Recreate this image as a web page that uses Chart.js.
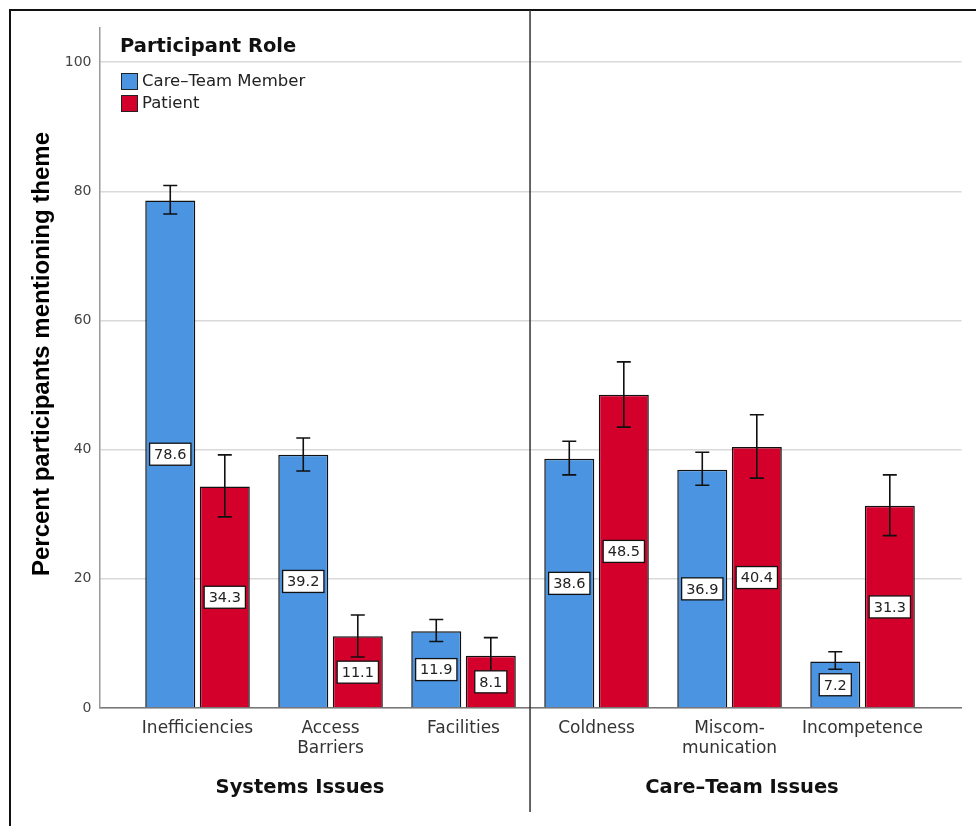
<!DOCTYPE html>
<html>
<head>
<meta charset="utf-8">
<script src="https://cdn.jsdelivr.net/npm/chart.js@4"></script>
<style>
  html, body { margin: 0; padding: 0; background: #fff; }
  #wrap { width: 976px; height: 826px; }
</style>
</head>
<body>
<div id="wrap"><canvas id="chart" width="976" height="826"></canvas></div>
<script>
// categories, in two panels of three
const CATEGORIES = [
  ["Inefficiencies"], ["Access", "Barriers"], ["Facilities"],
  ["Coldness"], ["Miscom-", "munication"], ["Incompetence"],
];
const PANELS = ["Systems Issues", "Care-Team Issues"];

const careTeam = [78.6, 39.2, 11.9, 38.6, 36.9, 7.2];
const patient = [34.3, 11.1, 8.1, 48.5, 40.4, 31.3];

// error bar bounds
const careLow = [76.5, 36.7, 10.3, 36.1, 34.5, 6.0];
const careHigh = [80.9, 41.8, 13.7, 41.3, 39.6, 8.7];
const patientLow = [29.6, 7.9, 5.6, 43.5, 35.6, 26.7];
const patientHigh = [39.2, 14.4, 10.9, 53.6, 45.4, 36.1];

const Y_TICKS = [0, 20, 40, 60, 80, 100];

const BLUE = "#4a94e2";
const RED = "#d4002c";

const toPoints = (vals) => vals.map((v, i) => ({ x: i, y: v }));

const errorBars = {
  id: "errorBars",
  afterDatasetsDraw(chart) {
    const { ctx } = chart;
    const y = chart.scales.y;
    const bounds = [[careLow, careHigh], [patientLow, patientHigh]];
    ctx.save();
    ctx.strokeStyle = "#111";
    ctx.lineWidth = 1.6;
    chart.data.datasets.forEach((ds, di) => {
      const meta = chart.getDatasetMeta(di);
      meta.data.forEach((bar, i) => {
        const x = bar.x;
        const top = y.getPixelForValue(bounds[di][1][i]);
        const bot = y.getPixelForValue(bounds[di][0][i]);
        ctx.beginPath();
        ctx.moveTo(x, top); ctx.lineTo(x, bot);
        ctx.moveTo(x - 7, top); ctx.lineTo(x + 7, top);
        ctx.moveTo(x - 7, bot); ctx.lineTo(x + 7, bot);
        ctx.stroke();
      });
    });
    // value boxes in the middle of each bar
    ctx.font = "14.5px 'DejaVu Sans'";
    ctx.textAlign = "center";
    ctx.textBaseline = "middle";
    chart.data.datasets.forEach((ds, di) => {
      const meta = chart.getDatasetMeta(di);
      meta.data.forEach((bar, i) => {
        const v = ds.data[i].y;
        const txt = v.toFixed(1);
        const cy = y.getPixelForValue(v / 2);
        const w = ctx.measureText(txt).width + 9;
        const h = 22;
        ctx.fillStyle = "#fff";
        ctx.fillRect(bar.x - w / 2, cy - h / 2, w, h);
        ctx.strokeStyle = "#111";
        ctx.lineWidth = 1.3;
        ctx.strokeRect(bar.x - w / 2, cy - h / 2, w, h);
        ctx.fillStyle = "#222";
        ctx.fillText(txt, bar.x, cy + 1);
      });
    });
    ctx.restore();
  },
  afterDraw(chart) {
    const { ctx } = chart;
    const x = chart.scales.x;
    ctx.save();
    // outer frame (top and left only, as cropped)
    ctx.strokeStyle = "#111";
    ctx.lineWidth = 2;
    ctx.beginPath();
    ctx.moveTo(10, 826); ctx.lineTo(10, 10); ctx.lineTo(976, 10);
    ctx.stroke();
    // panel divider
    const divX = x.getPixelForValue(2.5);
    ctx.strokeStyle = "#333";
    ctx.lineWidth = 1.5;
    ctx.beginPath();
    ctx.moveTo(divX, 10); ctx.lineTo(divX, 812);
    ctx.stroke();

    // legend
    ctx.fillStyle = "#111";
    ctx.textAlign = "left";
    ctx.textBaseline = "alphabetic";
    ctx.font = "bold 19.5px 'DejaVu Sans'";
    ctx.fillText("Participant Role", 120, 52);
    const items = [["Care\u2013Team Member", BLUE], ["Patient", RED]];
    ctx.font = "16.5px 'DejaVu Sans'";
    items.forEach(([label, col], k) => {
      const yy = 73 + k * 22;
      ctx.fillStyle = col;
      ctx.fillRect(121, yy, 17, 17);
      ctx.strokeStyle = "#222";
      ctx.lineWidth = 1;
      ctx.strokeRect(121.5, yy + 0.5, 16, 16);
      ctx.fillStyle = "#222";
      ctx.textBaseline = "middle";
      ctx.fillText(label, 142, yy + 9);
    });

    // panel titles
    ctx.fillStyle = "#111";
    ctx.textAlign = "center";
    ctx.textBaseline = "alphabetic";
    ctx.font = "bold 19.5px 'DejaVu Sans'";
    ctx.fillText(PANELS[0], 300, 793);
    ctx.fillText(PANELS[1].replace("-", "\u2013"), 742, 793);

    // y axis title
    ctx.translate(49, 354);
    ctx.rotate(-Math.PI / 2);
    ctx.font = "bold 24px 'Liberation Sans'";
    ctx.fillStyle = "#000";
    ctx.textBaseline = "alphabetic";
    ctx.fillText("Percent participants mentioning theme", 0, 0);
    ctx.restore();
  },
};

new Chart(document.getElementById("chart"), {
  type: "bar",
  data: {
    datasets: [
      {
        label: "Care\u2013Team Member",
        data: toPoints(careTeam),
        backgroundColor: BLUE,
        borderColor: "#111",
        borderWidth: 1.5,
      },
      {
        label: "Patient",
        data: toPoints(patient),
        backgroundColor: RED,
        borderColor: "#111",
        borderWidth: 1.5,
      },
    ],
  },
  options: {
    responsive: false,
    animation: false,
    categoryPercentage: 0.82,
    barPercentage: 0.917,
    layout: { padding: { top: 28, right: 14.5, left: 0, bottom: 0 } },
    plugins: {
      legend: { display: false },
      tooltip: { enabled: false },
    },
    scales: {
      x: {
        type: "linear",
        offset: false,
        min: -0.737,
        max: 5.744,
        grid: { display: false, drawTicks: false, offset: false },
        border: { color: "#777", width: 1.5 },
        ticks: {
          stepSize: 1,
          includeBounds: false,
          autoSkip: false,
          maxRotation: 0,
          padding: 10,
          color: "#333",
          font: { family: "DejaVu Sans", size: 17, lineHeight: 1.2 },
          callback: (v) => CATEGORIES[v] || "",
        },
        afterFit: (s) => { s.height = 118; },
      },
      y: {
        min: 0,
        max: 105.3,
        grid: { color: "#d9d9d9", lineWidth: 1.6, drawTicks: false },
        border: { color: "#999", width: 1.5 },
        ticks: {
          stepSize: 20,
          includeBounds: false,
          padding: 8,
          color: "#444",
          font: { family: "DejaVu Sans", size: 14 },
          callback: (v) => (Y_TICKS.includes(v) ? v : ""),
        },
        afterFit: (s) => { s.width = 99.5; },
      },
    },
  },
  plugins: [errorBars],
});
</script>
</body>
</html>
